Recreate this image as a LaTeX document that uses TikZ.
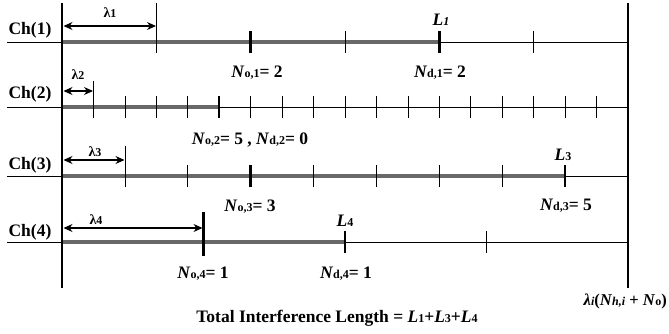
\documentclass[tikz,border=0pt]{standalone}
\usepackage{fontspec}
\setmainfont{Liberation Serif}
\usetikzlibrary{arrows.meta}
\definecolor{band}{RGB}{105,105,105}
\newcommand{\sx}[1]{{\fontsize{12}{12}\selectfont #1}}
\newcommand{\Nv}{\textit{N}}
\begin{document}
\begin{tikzpicture}[x=1pt,y=-1pt,
  txt/.style={font=\bfseries\fontsize{17.5}{19}\selectfont, inner sep=0pt},
  lam/.style={font=\bfseries\fontsize{14}{16}\selectfont, inner sep=0pt},
  axis/.style={line width=0.8pt},
  bar/.style={line width=2.4pt},
  band/.style={line width=4.6pt, draw=band},
  thin/.style={line width=0.6pt},
  thick/.style={line width=2.4pt},
  dim/.style={line width=1.2pt, {Stealth[length=9pt,width=8pt]}-{Stealth[length=9pt,width=8pt]}}]
\useasboundingbox (0,0) rectangle (669,334);
% vertical bars
\coordinate (Lt) at (62,3); \coordinate (Lb) at (62,288);
\coordinate (Rt) at (628,3); \coordinate (Rb) at (628,288);
% channel lines
\foreach \i/\y in {1/42,2/107,3/176,4/242}{
  \coordinate (s\i) at (7,\y); \coordinate (e\i) at (628,\y);
  \draw[axis] (s\i) -- (e\i);
}
% bands
\draw[band] (62,42) -- (439.3,42);
\draw[band] (62,107) -- (219.2,107);
\draw[band] (62,176) -- (565.1,176);
\draw[band] (62,242) -- (345,242);
% ticks ch1
\foreach \k in {2,...,5}{\pgfmathsetmacro\xx{62+94.333*\k}
  \ifnum\k=2 \draw[thick] (\xx,31) -- (\xx,53); \else\ifnum\k=4 \draw[thick] (\xx,31) -- (\xx,53); \else \draw[thin] (\xx,31) -- (\xx,53); \fi\fi}
\draw[thin] (156.3,3) -- (156.3,53);
% ticks ch2
\foreach \k in {2,...,17}{\pgfmathsetmacro\xx{62+31.444*\k}
  \ifnum\k=5 \draw[thick] (\xx,96) -- (\xx,118); \else \draw[thin] (\xx,96) -- (\xx,118); \fi}
\draw[thin] (93.4,81) -- (93.4,118);
% ticks ch3
\foreach \k in {2,...,8}{\pgfmathsetmacro\xx{62+62.889*\k}
  \ifnum\k=3 \draw[thick] (\xx,165) -- (\xx,187); \else\ifnum\k=8 \draw[thick] (\xx,165) -- (\xx,187); \else \draw[thin] (\xx,165) -- (\xx,187); \fi\fi}
\draw[thin] (124.9,146) -- (124.9,187);
% ticks ch4
\draw[thick] (203.5,212) -- (203.5,256);
\draw[thick] (345,231) -- (345,253);
\draw[thin] (486.5,231) -- (486.5,253);
% vertical bars
\draw[bar] (Lt) -- (Lb);
\draw[bar] (Rt) -- (Rb);
% lambda arrows
\coordinate (a1) at (63.5,26); \coordinate (b1) at (156,26);
\coordinate (a2) at (63.5,91); \coordinate (b2) at (93,91);
\coordinate (a3) at (63.5,160); \coordinate (b3) at (124.5,160);
\coordinate (a4) at (63.5,228); \coordinate (b4) at (202.5,228);
\draw[dim] (a1) -- (b1);
\draw[dim] (a2) -- (b2);
\draw[dim] (a3) -- (b3);
\draw[dim] (a4) -- (b4);
\node[lam] (l1) at (110,13) {λ\sx{1}};
\node[lam] (l2) at (78,75) {λ\sx{2}};
\node[lam] (l3) at (95,152) {λ\sx{3}};
\node[lam] (l4) at (96,220) {λ\sx{4}};
% channel labels
\node[txt] (c1) at (30,30) {Ch(1)};
\node[txt] (c2) at (30,94) {Ch(2)};
\node[txt] (c3) at (30,165) {Ch(3)};
\node[txt] (c4) at (30,232) {Ch(4)};
% value labels
\node[txt] (no1) at (257,73) {\Nv\sx{o,1}= 2};
\node[txt] (nd1) at (440,73) {\Nv\sx{d,1}= 2};
\node[txt] (L1) at (441,20) {\textit{L\sx{1}}};
\node[txt] (n2) at (250,140) {\Nv\sx{o,2}= 5 , \Nv\sx{d,2}= 0};
\node[txt] (no3) at (250,207) {\Nv\sx{o,3}= 3};
\node[txt] (nd3) at (566,206) {\Nv\sx{d,3}= 5};
\node[txt] (L3) at (563,155) {\textit{L}\sx{3}};
\node[txt] (L4) at (345,221) {\textit{L}\sx{4}};
\node[txt] (no4) at (203,274) {\Nv\sx{o,4}= 1};
\node[txt] (nd4) at (346,274) {\Nv\sx{d,4}= 1};
\node[txt] (tot) at (337,318) {Total Interference Length = \textit{L}\sx{1}+\textit{L}\sx{3}+\textit{L}\sx{4}};
\node[txt, font=\bfseries\fontsize{16.5}{18}\selectfont, anchor=east] (lam) at (667,301) {\textit{λ}\sx{\textit{i}}(\Nv\sx{\textit{h,i}} + \Nv\sx{o})};
\end{tikzpicture}
\end{document}
